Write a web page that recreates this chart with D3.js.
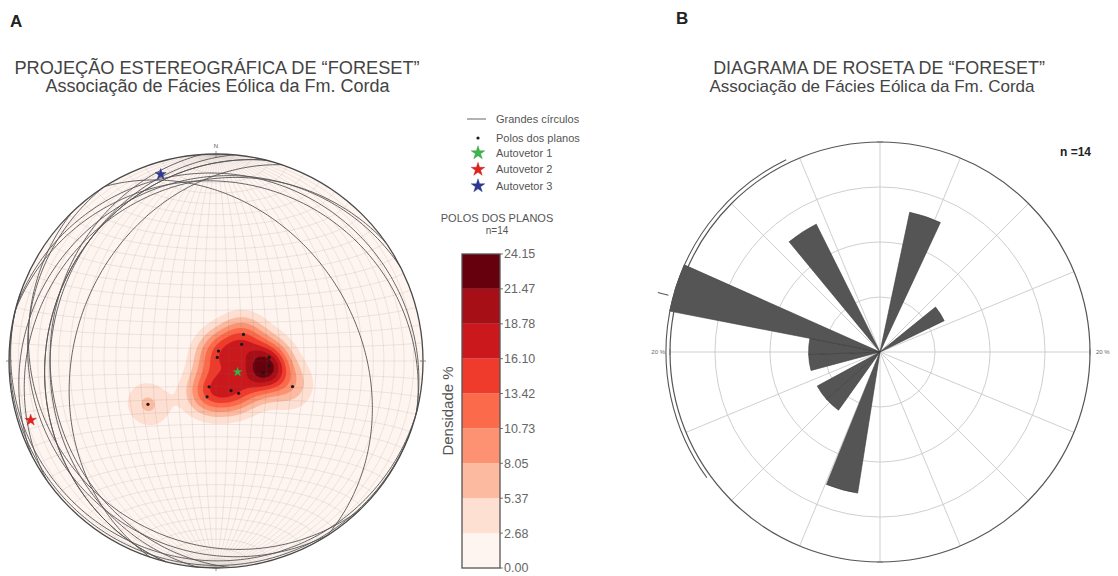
<!DOCTYPE html>
<html>
<head>
<meta charset="utf-8">
<script src="https://cdn.jsdelivr.net/npm/d3@7"></script>
<style>
  body { margin: 0; background: #fff; }
  svg { display: block; }
  text { font-family: "Liberation Sans", Arial, Helvetica, sans-serif; }
</style>
</head>
<body>
<svg id="chart" width="1118" height="576"></svg>
<script>
// ---- Poles to foreset planes (lower hemisphere), degrees ----
const poleTrend  = [46, 57, 14, 19, 86, 95, 104, 104, 195, 194, 153, 145, 108.5, 237.5];
const polePlunge = [75, 78, 86, 88.5, 69, 69, 71, 71, 79.5, 75.5, 77, 74.5, 58, 58];

// ---- Eigenvectors of the orientation tensor ----
const eigenLabels = ["Autovetor 1", "Autovetor 2", "Autovetor 3"];
const eigenTrend  = [117, 252.3, 343.5];
const eigenPlunge = [80.5, 6.7, 6.6];
const eigenColors = ["#3db54a", "#e3211c", "#2b3896"];

// ---- Density scale (% per 1% area) ----
const densityTicks = [0.00, 2.68, 5.37, 8.05, 10.73, 13.42, 16.10, 18.78, 21.47, 24.15];
const densityLabels = ["0.00", "2.68", "5.37", "8.05", "10.73", "13.42", "16.10", "18.78", "21.47", "24.15"];

// ---- Rose diagram of dip directions ----
const roseStart = [12, 51, 189, 215.5, 228.5, 255, 268, 281, 320.5];
const roseCount = [2, 1, 2, 1, 1, 1, 1, 3, 2];
const roseBinWidth = 13;
const roseN = 14;
const roseRings = [5.5, 11, 16.5];
const roseMax = 21;
const roseMeanDir = 285;
const roseSpread = [234, 334];

const svg = d3.select("#chart");
const rad = Math.PI / 180;

// ================= A: stereonet =================
const cx = 216, cy = 361, R = 207;
const proj = d3.geoAzimuthalEqualArea()
  .scale(R / Math.SQRT2).translate([cx, cy]).clipAngle(90).precision(0.1);
const geoPath = d3.geoPath(proj);

function lineToLonLat(t, p) {
  const tr = t * rad, pr = p * rad;
  const lat = Math.asin(Math.cos(pr) * Math.cos(tr));
  const lon = Math.atan2(Math.cos(pr) * Math.sin(tr), Math.sin(pr));
  return [lon / rad, lat / rad];
}
function toVec([lon, lat]) {
  const l = lon * rad, f = lat * rad;
  return [Math.cos(f) * Math.cos(l), Math.cos(f) * Math.sin(l), Math.sin(f)];
}

const poles = poleTrend.map((t, i) => lineToLonLat(t, polePlunge[i]));
const poleVecs = poles.map(toVec);

svg.append("defs").append("clipPath").attr("id", "net")
  .append("circle").attr("cx", cx).attr("cy", cy).attr("r", R);

const bandColors = d3.schemeReds[9];
const net = svg.append("g");
net.append("circle").attr("cx", cx).attr("cy", cy).attr("r", R).attr("fill", bandColors[0]);

// density grid: spherical Gaussian smoothing of axial data
const sigma = 6.5;
const kern = th => Math.exp(-(th * th) / (2 * sigma * sigma));
const step = 1.5, pad = 3;
const gx0 = cx - R - pad, gy0 = cy - R - pad;
const n = Math.ceil(2 * (R + pad) / step) + 1;
const vals = new Array(n * n).fill(0);
let vmax = 0;
for (let j = 0; j < n; j++) {
  for (let i = 0; i < n; i++) {
    const px = gx0 + i * step, py = gy0 + j * step;
    const dx = px - cx, dy = py - cy;
    if (dx * dx + dy * dy > (R + pad) * (R + pad)) continue;
    const ll = proj.invert([px, py]);
    if (!ll || isNaN(ll[0])) continue;
    const v = toVec(ll);
    let s = 0;
    for (const q of poleVecs) {
      const d = Math.min(1, Math.abs(v[0] * q[0] + v[1] * q[1] + v[2] * q[2]));
      s += kern(Math.acos(d) / rad);
    }
    vals[j * n + i] = s;
    if (s > vmax) vmax = s;
  }
}
const norm = densityTicks[densityTicks.length - 1] / vmax;
for (let k = 0; k < vals.length; k++) vals[k] *= norm;

const levels = densityTicks.slice(1, -1);
const contours = d3.contours().size([n, n]).thresholds(levels)(vals);
const gridPath = d3.geoPath(d3.geoIdentity().scale(step).translate([gx0 - step / 2, gy0 - step / 2]));
net.append("g").attr("clip-path", "url(#net)")
  .selectAll("path").data(contours).join("path")
  .attr("d", gridPath)
  .attr("fill", d => bandColors[levels.indexOf(d.value) + 1]);

// Schmidt net graticule (5 degrees)
const gratLines = [];
d3.range(-85, 90, 5).forEach(lon => gratLines.push({ type: "LineString", coordinates: d3.range(-90, 90.5, 1).map(lat => [lon, lat]) }));
d3.range(-85, 90, 5).forEach(lat => gratLines.push({ type: "LineString", coordinates: d3.range(-90, 90.5, 1).map(lon => [lon, lat]) }));
net.append("g").selectAll("path").data(gratLines).join("path")
  .attr("d", geoPath).attr("fill", "none")
  .attr("stroke", "#7d6a6a").attr("stroke-opacity", 0.2).attr("stroke-width", 0.7);

// great circles of the planes
const gc = poles.map(p => ({ type: "LineString", coordinates: d3.geoCircle().center(p).radius(90).precision(1)().coordinates[0] }));
net.append("g").selectAll("path").data(gc).join("path")
  .attr("d", geoPath).attr("fill", "none")
  .attr("stroke", "#555").attr("stroke-width", 0.9);

// primitive circle + ticks
net.append("circle").attr("cx", cx).attr("cy", cy).attr("r", R)
  .attr("fill", "none").attr("stroke", "#4a4a4a").attr("stroke-width", 1.3);
[[0, -1], [1, 0], [0, 1], [-1, 0]].forEach(([ux, uy]) => {
  net.append("line")
    .attr("x1", cx + ux * (R - 3)).attr("y1", cy + uy * (R - 3))
    .attr("x2", cx + ux * (R + 3)).attr("y2", cy + uy * (R + 3))
    .attr("stroke", "#777").attr("stroke-width", 0.8);
});
net.append("text").attr("x", cx).attr("y", cy - R - 6).attr("text-anchor", "middle")
  .attr("font-size", 6).attr("fill", "#555").text("N");

// poles
net.append("g").selectAll("circle").data(poles).join("circle")
  .attr("cx", d => proj(d)[0]).attr("cy", d => proj(d)[1]).attr("r", 1.6).attr("fill", "#1a1a1a");

// eigenvectors
const starSizes = [28, 42, 38];
eigenTrend.forEach((t, i) => {
  const p = proj(lineToLonLat(t, eigenPlunge[i]));
  net.append("path").attr("d", d3.symbol(d3.symbolStar, starSizes[i])())
    .attr("transform", `translate(${p[0]},${p[1]})`)
    .attr("fill", eigenColors[i]).attr("stroke", d3.color(eigenColors[i]).darker(0.6)).attr("stroke-width", 0.4);
});

// titles
svg.append("text").attr("x", 10).attr("y", 27).attr("font-size", 17).attr("font-weight", "bold").attr("fill", "#222").text("A");
svg.append("text").attr("x", 217).attr("y", 74).attr("text-anchor", "middle").attr("font-size", 18.2).attr("fill", "#444")
  .text("PROJEÇÃO ESTEREOGRÁFICA DE \u201CFORESET\u201D");
svg.append("text").attr("x", 217.5).attr("y", 92).attr("text-anchor", "middle").attr("font-size", 18).attr("fill", "#444")
  .text("Associação de Fácies Eólica da Fm. Corda");

// legend
const lg = svg.append("g").attr("font-size", 11).attr("fill", "#555");
lg.append("line").attr("x1", 467).attr("x2", 486).attr("y1", 119).attr("y2", 119).attr("stroke", "#555").attr("stroke-width", 0.9);
lg.append("text").attr("x", 496).attr("y", 119).attr("dy", "0.35em").text("Grandes círculos");
lg.append("circle").attr("cx", 478).attr("cy", 138).attr("r", 1.6).attr("fill", "#1a1a1a");
lg.append("text").attr("x", 496).attr("y", 138).attr("dy", "0.35em").text("Polos dos planos");
eigenLabels.forEach((lab, i) => {
  const y = 153 + i * 16.5;
  lg.append("path").attr("d", d3.symbol(d3.symbolStar, 58)())
    .attr("transform", `translate(478,${y})`)
    .attr("fill", eigenColors[i]).attr("stroke", d3.color(eigenColors[i]).darker(0.6)).attr("stroke-width", 0.4);
  lg.append("text").attr("x", 496).attr("y", y).attr("dy", "0.35em").text(lab);
});

// colour bar
svg.append("text").attr("x", 497).attr("y", 222).attr("text-anchor", "middle").attr("font-size", 11).attr("fill", "#555").text("POLOS DOS PLANOS");
svg.append("text").attr("x", 497).attr("y", 234).attr("text-anchor", "middle").attr("font-size", 10).attr("fill", "#555").text("n=14");
const cbX = 462, cbW = 38;
const cbY = d3.scaleLinear().domain([0, densityTicks[densityTicks.length - 1]]).range([568, 254]);
const cb = svg.append("g");
cb.selectAll("rect").data(d3.range(9)).join("rect")
  .attr("x", cbX).attr("width", cbW)
  .attr("y", i => cbY(densityTicks[i + 1])).attr("height", i => cbY(densityTicks[i]) - cbY(densityTicks[i + 1]))
  .attr("fill", i => bandColors[i]);
cb.append("rect").attr("x", cbX).attr("y", cbY.range()[1]).attr("width", cbW).attr("height", cbY.range()[0] - cbY.range()[1])
  .attr("fill", "none").attr("stroke", "#555").attr("stroke-width", 1.3);
cb.selectAll("line.t").data(densityTicks).join("line")
  .attr("x1", cbX + cbW).attr("x2", cbX + cbW + 3).attr("y1", d => cbY(d)).attr("y2", d => cbY(d))
  .attr("stroke", "#555").attr("stroke-width", 0.8);
cb.selectAll("text").data(densityTicks).join("text")
  .attr("x", cbX + cbW + 4).attr("y", d => cbY(d)).attr("dy", "0.35em")
  .attr("font-size", 12.5).attr("fill", "#666").text((d, i) => densityLabels[i]);
svg.append("text").attr("transform", "translate(453,411) rotate(-90)").attr("text-anchor", "middle")
  .attr("font-size", 15).attr("fill", "#555").text("Densidade %");

// ================= B: rose diagram =================
const rc = [880, 352];
const rScale = d3.scaleLinear().domain([0, roseMax]).range([0, 210]);
const rose = svg.append("g").attr("transform", `translate(${rc[0]},${rc[1]})`);

rose.selectAll("circle.ring").data(roseRings).join("circle")
  .attr("r", d => rScale(d)).attr("fill", "none").attr("stroke", "#c9c9c9").attr("stroke-width", 0.9);
rose.selectAll("line.spoke").data(d3.range(0, 360, 22.5)).join("line")
  .attr("x1", 0).attr("y1", 0)
  .attr("x2", d => rScale(roseMax) * Math.sin(d * rad))
  .attr("y2", d => -rScale(roseMax) * Math.cos(d * rad))
  .attr("stroke", "#c9c9c9").attr("stroke-width", 0.9);

const petal = d3.arc().innerRadius(0);
rose.selectAll("path.petal").data(roseStart.map((s, i) => ({ s, c: roseCount[i] }))).join("path")
  .attr("d", d => petal({ outerRadius: rScale(d.c / roseN * 100), startAngle: d.s * rad, endAngle: (d.s + roseBinWidth) * rad }))
  .attr("fill", "#555").attr("stroke", "#3a3a3a").attr("stroke-width", 0.6);

rose.append("circle").attr("r", rScale(roseMax)).attr("fill", "none").attr("stroke", "#555").attr("stroke-width", 1.2);
rose.append("path")
  .attr("d", d3.arc()({ innerRadius: rScale(roseMax) + 4, outerRadius: rScale(roseMax) + 4, startAngle: roseSpread[0] * rad, endAngle: roseSpread[1] * rad }))
  .attr("fill", "none").attr("stroke", "#555").attr("stroke-width", 1.1);
rose.append("line")
  .attr("x1", (rScale(roseMax) + 9) * Math.sin(roseMeanDir * rad)).attr("y1", -(rScale(roseMax) + 9) * Math.cos(roseMeanDir * rad))
  .attr("x2", (rScale(roseMax) + 20) * Math.sin(roseMeanDir * rad)).attr("y2", -(rScale(roseMax) + 20) * Math.cos(roseMeanDir * rad))
  .attr("stroke", "#555").attr("stroke-width", 1.1);
[[0, -1], [0, 1], [1, 0], [-1, 0]].forEach(([ux, uy]) => {
  const r0 = rScale(roseMax);
  rose.append("line").attr("x1", ux * r0 - uy * 3).attr("y1", uy * r0 - ux * 3)
    .attr("x2", ux * r0 + uy * 3).attr("y2", uy * r0 + ux * 3)
    .attr("stroke", "#666").attr("stroke-width", 0.8);
});
rose.append("text").attr("x", -rScale(roseMax) - 5).attr("y", 0).attr("dy", "0.35em").attr("text-anchor", "end")
  .attr("font-size", 6).attr("fill", "#666").text("20 %");
rose.append("text").attr("x", rScale(roseMax) + 6).attr("y", 0).attr("dy", "0.35em")
  .attr("font-size", 6).attr("fill", "#666").text("20 %");

svg.append("text").attr("x", 1060).attr("y", 156).attr("font-size", 12).attr("font-weight", "bold").attr("fill", "#222").text("n =14");
svg.append("text").attr("x", 676).attr("y", 24).attr("font-size", 17).attr("font-weight", "bold").attr("fill", "#222").text("B");
svg.append("text").attr("x", 879).attr("y", 74).attr("text-anchor", "middle").attr("font-size", 17.9).attr("fill", "#444")
  .text("DIAGRAMA DE ROSETA DE \u201CFORESET\u201D");
svg.append("text").attr("x", 872).attr("y", 92).attr("text-anchor", "middle").attr("font-size", 17).attr("fill", "#444")
  .text("Associação de Fácies Eólica da Fm. Corda");
</script>
</body>
</html>
